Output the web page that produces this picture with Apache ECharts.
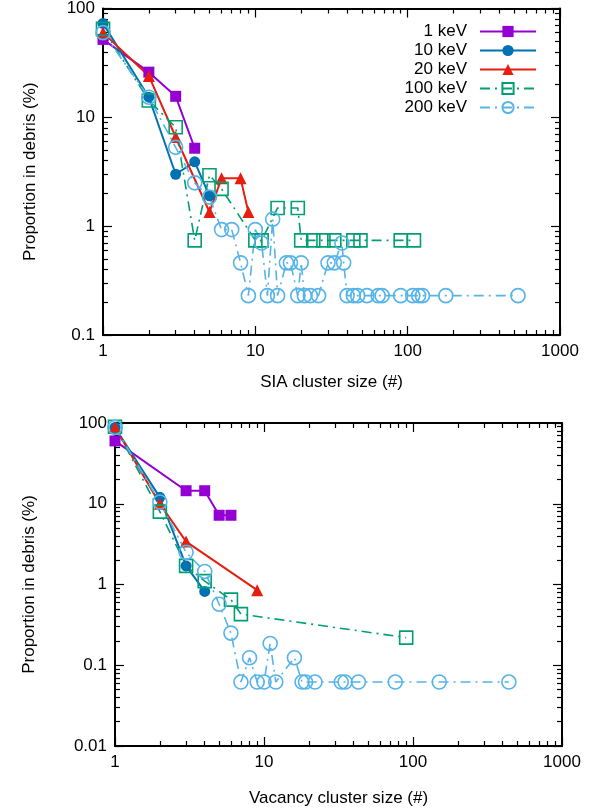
<!DOCTYPE html>
<html>
<head>
<meta charset="utf-8">
<script src="https://cdn.jsdelivr.net/npm/echarts@6.0.0/dist/echarts.min.js"></script>
<style>
  html, body { margin: 0; padding: 0; background: #fff; }
  #chart { width: 600px; height: 811px; }
</style>
</head>
<body>
<div id="chart"></div>
<script>
// 上图：SIA 团簇
const siaX_1keV = [1, 2, 3, 4];
const siaY_1keV = [52, 26, 15.6, 5.2];
const siaX_10keV = [1, 2, 3, 4, 5];
const siaY_10keV = [73, 15.3, 3, 3.9, 1.9];
const siaX_20keV = [1, 2, 3, 5, 6, 8, 9];
const siaY_20keV = [60, 24, 6.6, 1.35, 2.75, 2.75, 1.35];
const siaX_100keV = [1, 2, 3, 4, 5, 6, 10, 11, 14, 19, 20, 24, 28, 33, 44, 49, 90, 110];
const siaY_100keV = [65, 14.3, 8.1, 0.74, 2.94, 2.2, 0.74, 0.74, 1.47, 1.47, 0.74, 0.74, 0.74, 0.74, 0.74, 0.74, 0.74, 0.74];
const siaX_200keV = [1, 2, 3, 4, 5, 6, 7, 8, 9, 10, 11, 12, 13, 14, 16, 17, 19, 20, 21, 23, 26, 30, 33, 37, 38,
  40, 44, 47, 54, 64, 68, 90, 108, 118, 125, 178, 530];
const siaY_200keV = [60, 15.3, 5.3, 2.5, 1.85, 0.93, 0.93, 0.46, 0.23, 0.93, 0.7, 0.23, 1.16, 0.23, 0.46, 0.46, 0.23, 0.46, 0.23, 0.23, 0.23, 0.46, 0.46, 0.7, 0.46,
  0.23, 0.23, 0.23, 0.23, 0.23, 0.23, 0.23, 0.23, 0.23, 0.23, 0.23, 0.23];

// 下图：空位团簇
const vacX_1keV = [1, 3, 4, 5, 6];
const vacY_1keV = [60, 14.5, 14.5, 7.2, 7.2];
const vacX_10keV = [1, 2, 3, 4];
const vacY_10keV = [88, 12, 1.7, 0.82];
const vacX_20keV = [1, 2, 3, 9];
const vacY_20keV = [88, 10, 3.4, 0.85];
const vacX_100keV = [1, 2, 3, 4, 6, 7, 90];
const vacY_100keV = [90, 8, 1.7, 1.1, 0.65, 0.43, 0.22];
const vacX_200keV = [1, 2, 3, 4, 5, 6, 7, 8, 9, 10, 11, 12, 16, 18, 19, 22, 33, 35, 43, 76, 150, 440];
const vacY_200keV = [88, 10.5, 2.5, 1.45, 0.57, 0.25, 0.062, 0.124, 0.062, 0.062, 0.186, 0.062, 0.124, 0.062, 0.062, 0.062, 0.062, 0.062, 0.062, 0.062, 0.062, 0.062];

// 图例与刻度
const seriesNames = ['1 keV', '10 keV', '20 keV', '100 keV', '200 keV'];
const xTickLabels = [1, 10, 100, 1000];
const siaYTickLabels = [0.1, 1, 10, 100];
const vacYTickLabels = [0.01, 0.1, 1, 10, 100];

const FONT = 'Liberation Sans, Arial, Helvetica, sans-serif';
const axisFont = { fontFamily: FONT, fontSize: 17, color: '#000' };
const dashDot = [10, 5, 2, 5];

const styles = [
  { color: '#9400d3', symbol: 'rect', size: 11, filled: true, dash: 'solid' },
  { color: '#0072b2', symbol: 'circle', size: 11, filled: true, dash: 'solid' },
  { color: '#e51e10', symbol: 'triangle', size: 12, filled: true, dash: 'solid' },
  { color: '#009e73', symbol: 'rect', size: 13, filled: false, dash: dashDot },
  { color: '#56b4e9', symbol: 'circle', size: 14, filled: false, dash: dashDot }
];

// 每个十进位内的次刻度 2..9
const minorValues = (min, max) => {
  const out = [];
  for (let d = min; d < max * 0.999; d *= 10) {
    for (let k = 2; k <= 9; k++) out.push(Number((k * d).toPrecision(3)));
  }
  return out;
};

// 一个坐标方向四条轴：主/次刻度 × 两侧（镜像刻度）
const logAxes = (dim, gridIndex, min, max, labels, name, nameGap) => {
  const sides = dim === 'x' ? ['bottom', 'top'] : ['left', 'right'];
  const minors = minorValues(min, max);
  const list = [];
  sides.forEach((side, s) => {
    [labels, minors].forEach((vals, m) => {
      const main = s === 0 && m === 0;
      list.push({
        type: 'log',
        logBase: 10,
        gridIndex,
        position: side,
        min,
        max,
        name: main ? name : '',
        nameLocation: 'middle',
        nameGap,
        nameTextStyle: axisFont,
        axisLine: { show: m === 0, onZero: false, lineStyle: { color: '#000', width: 2 } },
        axisTick: { show: true, inside: true, length: m === 0 ? 9 : 5, customValues: vals, lineStyle: { color: '#000', width: 1.2 } },
        axisLabel: {
          show: main,
          customValues: labels,
          margin: 8,
          ...axisFont,
          formatter: (v) => String(Number(Number(v).toPrecision(3)))
        },
        splitLine: { show: false },
        minorTick: { show: false },
        minorSplitLine: { show: false },
        z: 1
      });
    });
  });
  return list;
};

const makeSeries = (name, xs, ys, st, gridIdx) => ({
  name,
  type: 'line',
  xAxisIndex: gridIdx * 4,
  yAxisIndex: gridIdx * 4,
  data: xs.map((x, i) => [x, ys[i]]),
  symbol: st.symbol,
  symbolSize: st.size,
  showSymbol: true,
  clip: false,
  z: 3,
  lineStyle: { color: st.color, width: st.filled ? 2 : 1.6, type: st.dash },
  itemStyle: {
    color: st.filled ? st.color : 'rgba(255,255,255,0)',
    borderColor: st.color,
    borderWidth: st.filled ? 0 : 1.6
  },
  emphasis: { disabled: true }
});

const siaXs = [siaX_1keV, siaX_10keV, siaX_20keV, siaX_100keV, siaX_200keV];
const siaYs = [siaY_1keV, siaY_10keV, siaY_20keV, siaY_100keV, siaY_200keV];
const vacXs = [vacX_1keV, vacX_10keV, vacX_20keV, vacX_100keV, vacX_200keV];
const vacYs = [vacY_1keV, vacY_10keV, vacY_20keV, vacY_100keV, vacY_200keV];

const series = [];
seriesNames.forEach((n, i) => series.push(makeSeries(n, siaXs[i], siaYs[i], styles[i], 0)));
seriesNames.forEach((n, i) => series.push(makeSeries(n, vacXs[i], vacYs[i], styles[i], 1)));

const chart = echarts.init(document.getElementById('chart'), null, { renderer: 'canvas' });

chart.setOption({
  animation: false,
  backgroundColor: '#fff',
  textStyle: { fontFamily: FONT },
  grid: [
    { left: 103, top: 7, right: 40, bottom: 476 },
    { left: 115, top: 423, right: 38, bottom: 65 }
  ],
  xAxis: [
    ...logAxes('x', 0, 1, 1000, xTickLabels, 'SIA cluster size (#)', 39),
    ...logAxes('x', 1, 1, 1000, xTickLabels, 'Vacancy cluster size (#)', 44)
  ],
  yAxis: [
    ...logAxes('y', 0, 0.1, 100, siaYTickLabels, 'Proportion in debris (%)', 64),
    ...logAxes('y', 1, 0.01, 100, vacYTickLabels, 'Proportion in debris (%)', 77)
  ],
  legend: {
    data: seriesNames,
    orient: 'vertical',
    right: 58,
    top: 18,
    align: 'right',
    itemWidth: 56,
    itemHeight: 14,
    itemGap: 2,
    selectedMode: false,
    textStyle: { fontSize: 17, fontFamily: FONT, color: '#000', padding: [0, 8, 0, 0] }
  },
  series
});
</script>
</body>
</html>
